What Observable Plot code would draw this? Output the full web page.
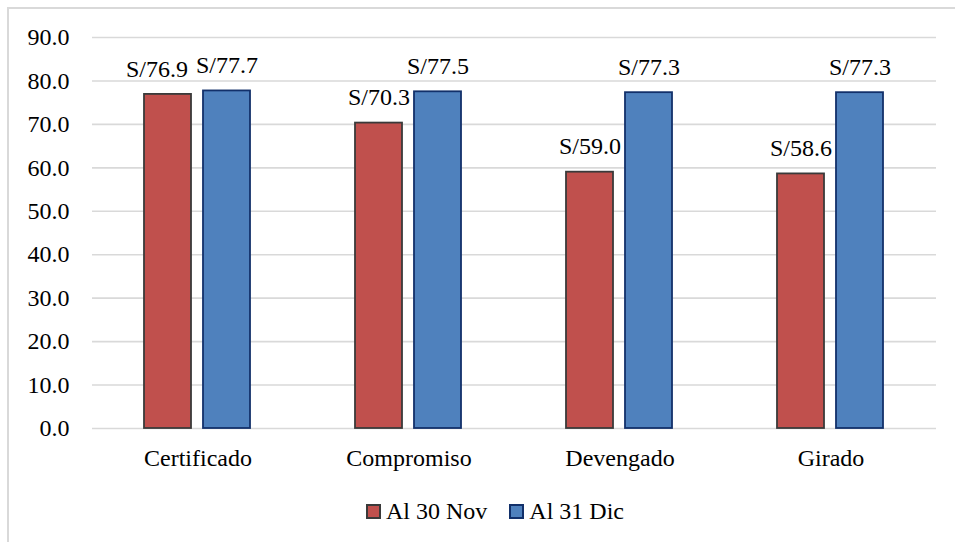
<!DOCTYPE html>
<html>
<head>
<meta charset="utf-8">
<script src="https://cdn.jsdelivr.net/npm/d3@7"></script>
<script src="https://cdn.jsdelivr.net/npm/@observablehq/plot@0.6"></script>
<style>
  html, body { margin: 0; padding: 0; background: #fff; overflow: hidden; }
  #frame { position: absolute; left: 7px; top: 7px; width: 1000px; height: 600px;
           border-left: 2px solid #d9d9d9; border-top: 2px solid #d9d9d9; box-sizing: border-box; }
  #chart { position: absolute; left: 0; top: 0; }
  #chart svg, #chart svg text { font-family: "Liberation Serif", serif !important; }
  #legend { position: absolute; left: 366px; top: 498px; display: flex; align-items: center;
            font-family: "Liberation Serif", serif; font-size: 24px; color: #000; }
  .item { display: flex; align-items: center; margin-right: 22px; }
  .sw { width: 11px; height: 11px; border: 2px solid; margin-right: 5px; }
</style>
</head>
<body>
<div id="frame"></div>
<div id="chart"></div>
<div id="legend"></div>
<script>
const categories = ["Certificado", "Compromiso", "Devengado", "Girado"];
const seriesNames = ["Al 30 Nov", "Al 31 Dic"];
const novValues = [76.9, 70.3, 59.0, 58.6];
const dicValues = [77.7, 77.5, 77.3, 77.3];
const yTicks = [0, 10, 20, 30, 40, 50, 60, 70, 80, 90];

const fills = ["#C0504D", "#4F81BD"];
const strokes = ["#3a3a3a", "#12306a"];
const font = "'Liberation Serif', serif";

const data = [];
categories.forEach((c, i) => {
  data.push({category: c, series: seriesNames[0], value: novValues[i]});
  data.push({category: c, series: seriesNames[1], value: dicValues[i]});
});

const label = d => "S/" + d.value.toFixed(1);
const shifted = d => d.category === "Certificado" && d.series === seriesNames[0];

const chart = Plot.plot({
  width: 955,
  height: 480,
  marginTop: 37,
  marginBottom: 52,
  marginLeft: 91,
  marginRight: 18,
  style: {fontFamily: font, fontSize: "24px", color: "#000", background: "transparent"},
  fx: {domain: categories, padding: 0, axis: "bottom", label: null, tickSize: 0, tickPadding: 20},
  x: {domain: seriesNames, paddingInner: 0.2, paddingOuter: 0.8625, axis: null},
  y: {domain: [0, 90], ticks: yTicks, tickFormat: d => d.toFixed(1), tickSize: 0, tickPadding: 23, label: null},
  color: {domain: seriesNames, range: fills},
  marks: [
    Plot.ruleY(yTicks, {stroke: "#d9d9d9", strokeWidth: 1.6}),
    Plot.barY(data.filter(d => d.series === seriesNames[0]), {fx: "category", x: "series", y: "value", fill: "series", stroke: strokes[0], strokeWidth: 1.8}),
    Plot.barY(data.filter(d => d.series === seriesNames[1]), {fx: "category", x: "series", y: "value", fill: "series", stroke: strokes[1], strokeWidth: 1.8}),
    Plot.text(data.filter(d => !shifted(d)), {fx: "category", x: "series", y: "value", text: label, lineAnchor: "middle", dy: -25.5, fill: "#000", fontFamily: font, fontSize: 24}),
    Plot.text(data.filter(shifted), {fx: "category", x: "series", y: "value", text: label, lineAnchor: "middle", dy: -25.5, dx: -11, fill: "#000", fontFamily: font, fontSize: 24})
  ]
});
document.getElementById("chart").appendChild(chart);

const legend = document.getElementById("legend");
seriesNames.forEach((s, i) => {
  const item = document.createElement("div");
  item.className = "item";
  const sw = document.createElement("div");
  sw.className = "sw";
  sw.style.background = fills[i];
  sw.style.borderColor = strokes[i];
  const t = document.createElement("span");
  t.textContent = s;
  item.appendChild(sw);
  item.appendChild(t);
  legend.appendChild(item);
});
</script>
</body>
</html>
